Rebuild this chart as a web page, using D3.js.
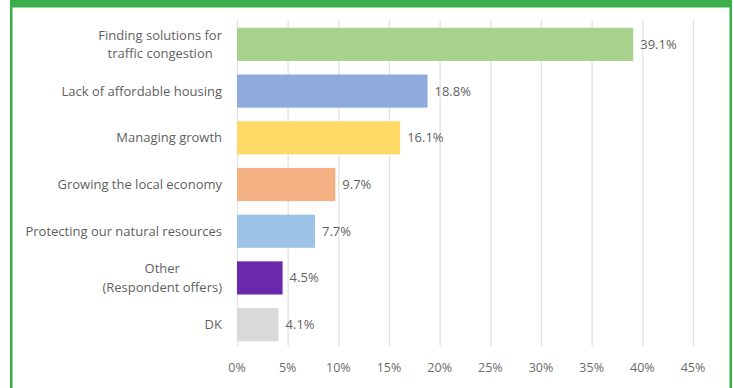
<!DOCTYPE html>
<html><head><meta charset="utf-8">
<script src="https://cdn.jsdelivr.net/npm/d3@7"></script>
<style>body{margin:0;background:#fff}svg{display:block}text{font-family:"Open Sans",sans-serif}</style>
</head><body><svg id="c" width="734" height="388"></svg>
<script>
const categories = [["Finding solutions for","traffic congestion"],["Lack of affordable housing"],["Managing growth"],["Growing the local economy"],["Protecting our natural resources"],["Other","(Respondent offers)"],["DK"]];
const values = [39.1, 18.8, 16.1, 9.7, 7.7, 4.5, 4.1];
const colors = ["#a9d18e","#8faadc","#ffd966","#f4b183","#9dc3e6","#6a28ac","#d9d9d9"];
const ticks = [0,5,10,15,20,25,30,35,40,45];

const svg = d3.select("#c");
// frame
svg.append("rect").attr("x",11).attr("y",0).attr("width",721).attr("height",7.5).attr("fill","#3bae49");
svg.append("rect").attr("x",10).attr("y",0).attr("width",2.5).attr("height",388).attr("fill","#3bae49");
svg.append("rect").attr("x",729.5).attr("y",0).attr("width",2.5).attr("height",388).attr("fill","#3bae49");

const x = d3.scaleLinear().domain([0,45]).range([237,693]);
const y = d3.scaleBand().domain(d3.range(categories.length)).range([21,348]).paddingInner(0.29).paddingOuter(0.145);

svg.append("g").selectAll("line").data(ticks).join("line")
  .attr("x1",d=>x(d)+0.5).attr("x2",d=>x(d)+0.5).attr("y1",20).attr("y2",346)
  .attr("stroke","#e3e3e3").attr("stroke-width",1.3);

svg.append("g").selectAll("text").data(ticks).join("text")
  .attr("x",d=>x(d)).attr("y",371.5).attr("text-anchor","middle")
  .attr("font-size",12.5).attr("fill","#6b6b6b").text(d=>d+"%");

svg.append("g").selectAll("rect").data(values).join("rect")
  .attr("x",x(0)).attr("y",(d,i)=>y(i)).attr("width",d=>x(d)-x(0)).attr("height",y.bandwidth())
  .attr("fill",(d,i)=>colors[i]);

svg.append("g").selectAll("text").data(values).join("text")
  .attr("x",d=>x(d)+7).attr("y",(d,i)=>y(i)+y.bandwidth()/2+4.5)
  .attr("font-size",13).attr("fill","#5f5f5f").text(d=>d.toFixed(1)+"%");

const FS = 13;
const lab = svg.append("g");
categories.forEach((lines,i)=>{
  const cy = y(i)+y.bandwidth()/2;
  const t = lab.append("text").attr("font-size",FS).attr("fill","#5f5f5f");
  const n = lines.length;
  if(n===1){
    t.append("tspan").attr("x",222).attr("y",cy+4.5).attr("text-anchor","end").text(lines[0]);
  } else {
    const tmp = lab.append("text").attr("font-size",FS);
    let w = 0; lines.forEach(l=>{tmp.text(l); w=Math.max(w,tmp.node().getComputedTextLength());});
    tmp.remove();
    const cx = 222 - w/2;
    lines.forEach((l,k)=>{
      t.append("tspan").attr("x",cx).attr("y",cy+4.5+(k-(n-1)/2)*18.5).attr("text-anchor","middle").text(l);
    });
  }
});
</script></body></html>
